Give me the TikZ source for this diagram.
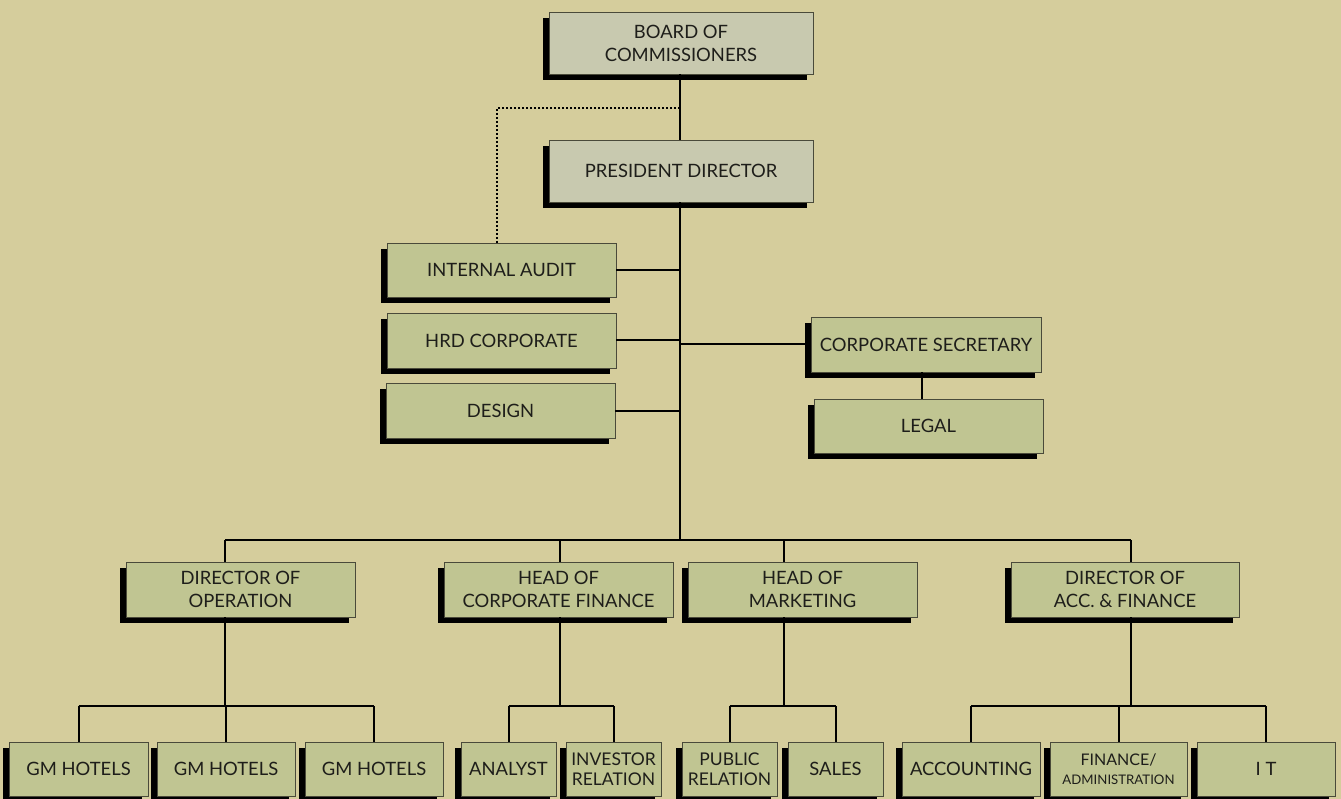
\documentclass[tikz,border=0pt]{standalone}
\usepackage{fontspec}
\setmainfont{Lato}
\usetikzlibrary{shadows,calc}
\definecolor{bgc}{HTML}{D5CD9C}
\definecolor{boxg}{HTML}{C0C592}
\definecolor{boxgray}{HTML}{C8C9AF}
\definecolor{edgec}{HTML}{4A4A3A}
\definecolor{txtc}{HTML}{1E1E1A}
\tikzset{
  orgbox/.style={draw=edgec, line width=0.9pt, fill=boxg, inner sep=0pt, align=center,
    text=txtc, font=\fontsize{18.4}{23}\selectfont,
    drop shadow={shadow xshift=-6pt, shadow yshift=-6pt, fill=black, opacity=1}},
  topbox/.style={orgbox, fill=boxgray},
  smallbox/.style={orgbox, font=\fontsize{17.5}{20.5}\selectfont},
  link/.style={draw=black, line width=2pt},
  dotlink/.style={draw=black, line width=2pt, dotted}
}
\begin{document}
\begin{tikzpicture}[x=1pt, y=-1pt]
\fill[bgc] (0,0) rectangle (1341,799);
\useasboundingbox (0,0) rectangle (1341,799);
% top
\node[topbox, minimum width=264pt, minimum height=62pt] (board) at (681,43) {BOARD OF\\COMMISSIONERS};
\node[topbox, minimum width=264pt, minimum height=62pt] (pres) at (681,171) {PRESIDENT DIRECTOR};
% staff
\node[orgbox, minimum width=229pt, minimum height=54pt] (audit) at (501.5,270) {INTERNAL AUDIT};
\node[orgbox, minimum width=229pt, minimum height=55pt] (hrd) at (501.5,340.5) {HRD CORPORATE};
\node[orgbox, minimum width=229pt, minimum height=55pt] (design) at (500.5,410.5) {DESIGN};
\node[orgbox, minimum width=230pt, minimum height=55pt] (corpsec) at (926,344.5) {CORPORATE SECRETARY};
\node[orgbox, minimum width=229pt, minimum height=54pt] (legal) at (928.5,426) {LEGAL};
% level 2
\node[orgbox, minimum width=229pt, minimum height=55pt] (op) at (240.5,589.5) {DIRECTOR OF\\OPERATION};
\node[orgbox, minimum width=229pt, minimum height=55pt] (cf) at (558.5,589.5) {HEAD OF\\CORPORATE FINANCE};
\node[orgbox, minimum width=229pt, minimum height=55pt] (mkt) at (802.5,589.5) {HEAD OF\\MARKETING};
\node[orgbox, minimum width=228pt, minimum height=55pt] (acc) at (1125,589.5) {DIRECTOR OF\\ACC. \& FINANCE};
% level 3
\node[orgbox, minimum width=139pt, minimum height=54pt] (gm1) at (78.5,769) {GM HOTELS};
\node[orgbox, minimum width=138pt, minimum height=54pt] (gm2) at (226,769) {GM HOTELS};
\node[orgbox, minimum width=138pt, minimum height=54pt] (gm3) at (374,769) {GM HOTELS};
\node[orgbox, minimum width=95pt, minimum height=54pt] (analyst) at (508.5,769) {ANALYST};
\node[smallbox, minimum width=95pt, minimum height=54pt] (investor) at (613.5,769) {INVESTOR\\RELATION};
\node[smallbox, minimum width=95pt, minimum height=54pt] (public) at (729.5,769) {PUBLIC\\RELATION};
\node[orgbox, minimum width=95pt, minimum height=54pt] (sales) at (835.5,769) {SALES};
\node[orgbox, minimum width=138pt, minimum height=54pt] (accounting) at (971,769) {ACCOUNTING};
\node[orgbox, minimum width=137pt, minimum height=54pt, font=\fontsize{16}{19}\selectfont] (finadm) at (1118.5,769) {FINANCE/\\{\fontsize{13.2}{16}\selectfont ADMINISTRATION}};
\node[orgbox, minimum width=138pt, minimum height=54pt] (it) at (1266,769) {I T};
% coordinates
\coordinate (spine) at (680,540);
\coordinate (dotc) at (680,108);
\coordinate (dotl) at (497,108);
\coordinate (sOp) at (225,540);
\coordinate (sCf) at (560,540);
\coordinate (sMk) at (784,540);
\coordinate (sAc) at (1131,540);
\coordinate (tOp) at (225,706);
\coordinate (tCf) at (560,706);
\coordinate (tMk) at (784,706);
\coordinate (tAc) at (1131,706);
\coordinate (secx) at (922,0);
% connectors
\draw[link] (board.south -| spine) -- (pres.north -| spine);
\draw[dotlink] (dotc) -- (dotl) -- (dotl |- audit.north);
\draw[link] (pres.south -| spine) -- (spine);
\draw[link] (audit.east) -- (audit.east -| spine);
\draw[link] (hrd.east) -- (hrd.east -| spine);
\draw[link] (design.east) -- (design.east -| spine);
\draw[link] (corpsec.west) -- (corpsec.west -| spine);
\draw[link] (secx |- corpsec.south) -- (secx |- legal.north);
\draw[link] (sOp) -- (sAc);
\draw[link] (sOp) -- (sOp |- op.north);
\draw[link] (sCf) -- (sCf |- cf.north);
\draw[link] (sMk) -- (sMk |- mkt.north);
\draw[link] (sAc) -- (sAc |- acc.north);
\draw[link] (tOp |- op.south) -- (tOp);
\draw[link] (tCf |- cf.south) -- (tCf);
\draw[link] (tMk |- mkt.south) -- (tMk);
\draw[link] (tAc |- acc.south) -- (tAc);
% buses level 3
\draw[link] (gm1.north |- tOp) -- (gm3.north |- tOp);
\draw[link] (gm1.north |- tOp) -- (gm1.north);
\draw[link] (gm2.north |- tOp) -- (gm2.north);
\draw[link] (gm3.north |- tOp) -- (gm3.north);
\draw[link] (analyst.north |- tCf) -- (investor.north |- tCf);
\draw[link] (analyst.north |- tCf) -- (analyst.north);
\draw[link] (investor.north |- tCf) -- (investor.north);
\draw[link] (public.north |- tMk) -- (sales.north |- tMk);
\draw[link] (public.north |- tMk) -- (public.north);
\draw[link] (sales.north |- tMk) -- (sales.north);
\draw[link] (accounting.north |- tAc) -- (it.north |- tAc);
\draw[link] (accounting.north |- tAc) -- (accounting.north);
\draw[link] (finadm.north |- tAc) -- (finadm.north);
\draw[link] (it.north |- tAc) -- (it.north);
\end{tikzpicture}
\end{document}
